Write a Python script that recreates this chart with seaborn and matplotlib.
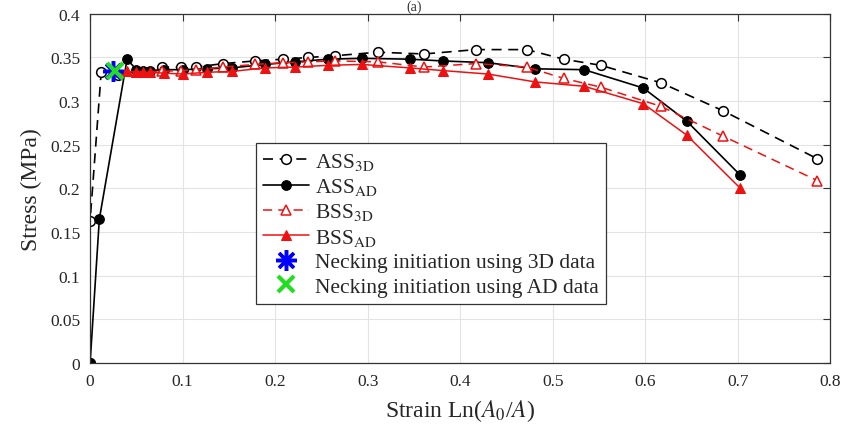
import matplotlib
matplotlib.use("Agg")
import matplotlib.pyplot as plt
import seaborn as sns
import pandas as pd

# ---- data ----
x_3d = [0.0, 0.0, 0.012, 0.03, 0.078, 0.098, 0.114, 0.144, 0.178, 0.209, 0.236,
        0.265, 0.311, 0.361, 0.417, 0.472, 0.512, 0.552, 0.617, 0.684, 0.786]
ass_3d = [0.0, 0.163, 0.333, 0.33, 0.339, 0.339, 0.339, 0.343, 0.346, 0.348, 0.350,
          0.352, 0.356, 0.354, 0.359, 0.359, 0.348, 0.341, 0.321, 0.289, 0.234]
x_bss3d = [0.03, 0.078, 0.098, 0.114, 0.144, 0.178, 0.209, 0.236,
           0.265, 0.311, 0.361, 0.417, 0.472, 0.512, 0.552, 0.617, 0.684, 0.786]
bss_3d = [0.333, 0.334, 0.335, 0.336, 0.339, 0.342, 0.344, 0.345,
          0.346, 0.345, 0.339, 0.343, 0.339, 0.326, 0.316, 0.294, 0.260, 0.209]

x_ad = [0.0, 0.01, 0.04, 0.05, 0.057, 0.065, 0.08, 0.1, 0.126, 0.153, 0.189, 0.222,
        0.257, 0.294, 0.346, 0.381, 0.43, 0.481, 0.534, 0.598, 0.645, 0.703]
ass_ad = [0.0, 0.165, 0.348, 0.336, 0.335, 0.335, 0.336, 0.336, 0.337, 0.338, 0.342, 0.345,
          0.348, 0.349, 0.348, 0.346, 0.344, 0.337, 0.336, 0.315, 0.277, 0.215]
x_bssad = [0.04, 0.05, 0.057, 0.065, 0.08, 0.1, 0.126, 0.153, 0.189, 0.222,
           0.257, 0.294, 0.346, 0.381, 0.43, 0.481, 0.534, 0.598, 0.645, 0.703]
bss_ad = [0.334, 0.333, 0.333, 0.333, 0.332, 0.331, 0.333, 0.334, 0.338, 0.339,
          0.341, 0.342, 0.338, 0.335, 0.331, 0.322, 0.317, 0.297, 0.261, 0.200]

neck_3d = ([0.025], [0.335])
neck_ad = ([0.027], [0.335])

labels = [r'ASS$_{\mathrm{3D}}$', r'ASS$_{\mathrm{AD}}$', r'BSS$_{\mathrm{3D}}$',
          r'BSS$_{\mathrm{AD}}$', 'Necking initiation using 3D data',
          'Necking initiation using AD data']
x_ticks = [0, 0.1, 0.2, 0.3, 0.4, 0.5, 0.6, 0.7, 0.8]
y_ticks = [0, 0.05, 0.1, 0.15, 0.2, 0.25, 0.3, 0.35, 0.4]

# ---- style ----
sns.set_style("white")
plt.rcParams['font.family'] = ['Liberation Serif', 'DejaVu Serif']
plt.rcParams['mathtext.fontset'] = 'stix'

fig = plt.figure(figsize=(8.42, 4.35), dpi=100)
ax = fig.add_axes([0.107, 0.163, 0.879, 0.803])

common = dict(ax=ax, sort=False, estimator=None)
sns.lineplot(x=x_3d, y=ass_3d, color='black', linestyle=(0, (6, 4)), linewidth=1.2,
             marker='o', markersize=7, markerfacecolor='white', markeredgecolor='black',
             markeredgewidth=1.1, label=labels[0], **common)
sns.lineplot(x=x_ad, y=ass_ad, color='black', linestyle='-', linewidth=1.2,
             marker='o', markersize=7, markerfacecolor='black', markeredgecolor='black',
             label=labels[1], **common)
sns.lineplot(x=x_bss3d, y=bss_3d, color='#ee1111', linestyle=(0, (6, 4)), linewidth=1.1,
             marker='^', markersize=7.5, markerfacecolor='white', markeredgecolor='#ee1111',
             markeredgewidth=1.1, label=labels[2], **common)
sns.lineplot(x=x_bssad, y=bss_ad, color='#ee1111', linestyle='-', linewidth=1.1,
             marker='^', markersize=7.5, markerfacecolor='#ee1111', markeredgecolor='#ee1111',
             label=labels[3], **common)
sns.lineplot(x=neck_3d[0], y=neck_3d[1], color='#0000ff', linestyle='none',
             marker=(8, 2, 0), markersize=15, markeredgewidth=2.5, markeredgecolor='#0000ff',
             label=labels[4], **common)
sns.lineplot(x=neck_ad[0], y=neck_ad[1], color='#22dd22', linestyle='none',
             marker='x', markersize=12, markeredgewidth=3, markeredgecolor='#22dd22',
             label=labels[5], **common)

ax.set_xlim(0, 0.8)
ax.set_ylim(0, 0.4)
ax.set_xticks(x_ticks)
ax.set_yticks(y_ticks)
ax.set_xticklabels(['0', '0.1', '0.2', '0.3', '0.4', '0.5', '0.6', '0.7', '0.8'])
ax.set_yticklabels(['0', '0.05', '0.1', '0.15', '0.2', '0.25', '0.3', '0.35', '0.4'])
ax.grid(True, color='#e3e3e3', linewidth=0.8)
ax.tick_params(direction='in', length=5, width=0.8, colors='#333333', labelcolor='#262626',
               labelsize=12.5, top=True, right=True, pad=7)
for s in ax.spines.values():
    s.set_color('#333333')
    s.set_linewidth(0.9)

ax.set_xlabel(r'Strain Ln($A_0$/$A$)', fontsize=17, color='#262626', labelpad=6)
ax.set_ylabel('Stress (MPa)', fontsize=17, color='#262626', labelpad=6)

leg = ax.legend(loc='lower left', bbox_to_anchor=(0.224, 0.169), fontsize=15.5,
                handlelength=2.1, handletextpad=0.3, labelspacing=0.2,
                borderpad=0.35, borderaxespad=0, frameon=True, fancybox=False, framealpha=1)
leg.get_frame().set_edgecolor('#333333')
leg.get_frame().set_linewidth(0.9)

fig.text(0.492, 0.999, '(a)', ha='center', va='top', fontsize=10, color='#333333')

fig.savefig('out.png', dpi=100)
